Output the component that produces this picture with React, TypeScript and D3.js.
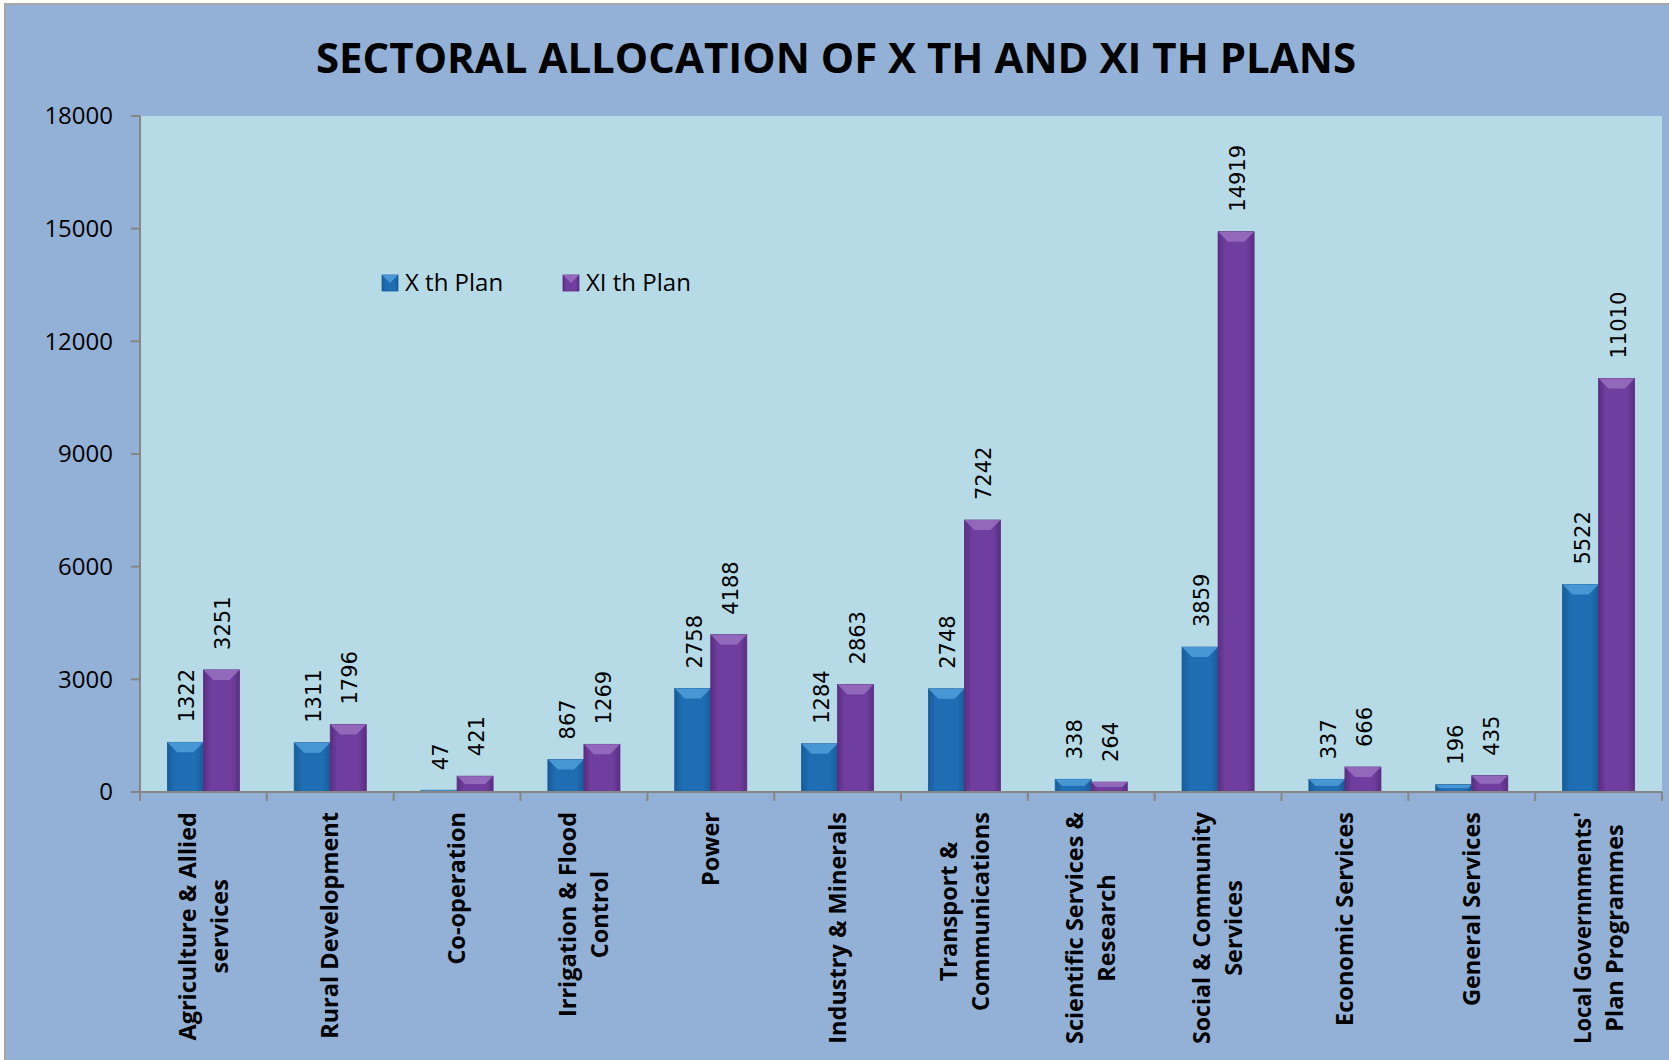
import * as d3 from 'd3'

// chart values
const categories = [
  'Agriculture & Allied services',
  'Rural Development',
  'Co-operation',
  'Irrigation & Flood Control',
  'Power',
  'Industry & Minerals',
  'Transport & Communications',
  'Scientific Services & Research',
  'Social & Community Services',
  'Economic Services',
  'General Services',
  "Local Governnments' Plan Programmes",
]
const categoryLines = [
  ['Agriculture & Allied', 'services'],
  ['Rural Development'],
  ['Co-operation'],
  ['Irrigation & Flood', 'Control'],
  ['Power'],
  ['Industry & Minerals'],
  ['Transport &', 'Communications'],
  ['Scientific Services &', 'Research'],
  ['Social & Community', 'Services'],
  ['Economic Services'],
  ['General Services'],
  ["Local Governnments'", 'Plan Programmes'],
]
const xthPlan = [1322, 1311, 47, 867, 2758, 1284, 2748, 338, 3859, 337, 196, 5522]
const xithPlan = [3251, 1796, 421, 1269, 4188, 2863, 7242, 264, 14919, 666, 435, 11010]
const seriesNames = ['X th Plan', 'XI th Plan']
const yTicks = [0, 3000, 6000, 9000, 12000, 15000, 18000]
const title = 'SECTORAL ALLOCATION OF X TH AND XI TH PLANS'

const W = 1669
const H = 1060
const plot = { left: 140, right: 1662, top: 116, bottom: 792 }

const palette = {
  'X th Plan': { base: '#1f6db3', dark: '#185c98', light: '#4f9fdb' },
  'XI th Plan': { base: '#703e9e', dark: '#5a2d82', light: '#9870bf' },
} as Record<string, { base: string; dark: string; light: string }>

const catFontSize = 23.5
const catFont = `bold ${catFontSize}px "Open Sans"`
const maxLineLen = 232
let ctx: CanvasRenderingContext2D | null = null
const measure = (s: string) => {
  if (!ctx) ctx = document.createElement('canvas').getContext('2d')
  if (!ctx) return s.length * 12
  ctx.font = catFont
  return ctx.measureText(s).width
}

const Bar = ({ x, y, w, h, name }: { x: number; y: number; w: number; h: number; name: string }) => {
  const c = palette[name]
  const b = Math.min(10, h / 2, w / 2)
  const id = name === 'X th Plan' ? 'gX' : 'gXI'
  return (
    <g>
      <rect x={x} y={y} width={w} height={h} fill={`url(#${id})`} stroke={c.dark} strokeWidth={0.8} />
      <polygon
        points={`${x},${y} ${x + w},${y} ${x + w - b},${y + b} ${x + b},${y + b}`}
        fill={c.light}
        opacity={0.85}
      />
    </g>
  )
}

const App = () => {
  const x0 = d3.scaleBand<string>().domain(categories).range([plot.left, plot.right]).padding(0)
  const x1 = d3.scaleBand<string>().domain(seriesNames).range([0, x0.bandwidth()]).paddingInner(0).paddingOuter(0.76)
  const y = d3.scaleLinear().domain([0, 18000]).range([plot.bottom, plot.top])

  const series = [
    { name: seriesNames[0], values: xthPlan },
    { name: seriesNames[1], values: xithPlan },
  ]

  return (
    <svg
      width={W}
      height={H}
      style={{ position: 'absolute', left: 0, top: 0, background: '#ffffff' }}
    >
      <defs>
        {seriesNames.map((n) => (
          <linearGradient key={n} id={n === 'X th Plan' ? 'gX' : 'gXI'} x1="0" x2="1" y1="0" y2="0">
            <stop offset="0" stopColor={palette[n].dark} />
            <stop offset="0.2" stopColor={palette[n].base} />
            <stop offset="0.8" stopColor={palette[n].base} />
            <stop offset="1" stopColor={palette[n].dark} />
          </linearGradient>
        ))}
      </defs>
      <rect x={5} y={4} width={W} height={H} fill="#93b1d6" stroke="#a6a6a6" strokeWidth={2} />
      <rect x={plot.left} y={plot.top} width={plot.right - plot.left} height={plot.bottom - plot.top} fill="#b6dbe6" />

      <text
        x={836}
        y={73}
        textAnchor="middle"
        fontFamily='"Open Sans", sans-serif'
        fontWeight="bold"
        fontSize={42}
        fill="#000"
      >
        {title}
      </text>

      {/* y axis */}
      <line x1={plot.left} x2={plot.left} y1={plot.top} y2={plot.bottom} stroke="#868686" strokeWidth={2} />
      {yTicks.map((t) => (
        <g key={t}>
          <line x1={plot.left - 9} x2={plot.left} y1={y(t)} y2={y(t)} stroke="#868686" strokeWidth={2} />
          <text
            x={113}
            y={y(t)}
            dy="0.35em"
            textAnchor="end"
            fontFamily='"Open Sans", sans-serif'
            fontSize={24}
            fill="#000"
          >
            {t}
          </text>
        </g>
      ))}

      {/* bars */}
      {series.map((s) =>
        s.values.map((v, i) => {
          const bx = (x0(categories[i]) ?? 0) + (x1(s.name) ?? 0)
          const bw = x1.bandwidth()
          return <Bar key={s.name + i} x={bx} y={y(v)} w={bw} h={y(0) - y(v)} name={s.name} />
        })
      )}

      {/* data labels */}
      {series.map((s) =>
        s.values.map((v, i) => {
          const cx = (x0(categories[i]) ?? 0) + (x1(s.name) ?? 0) + x1.bandwidth() / 2 + 2
          const ty = y(v) - 20
          return (
            <text
              key={'l' + s.name + i}
              transform={`translate(${cx},${ty}) rotate(-90)`}
              dominantBaseline="central"
              fontFamily='"DejaVu Sans", sans-serif'
              fontSize={21}
              fill="#000"
            >
              {v}
            </text>
          )
        })
      )}

      {/* x axis */}
      <line x1={plot.left} x2={plot.right} y1={plot.bottom} y2={plot.bottom} stroke="#868686" strokeWidth={2} />
      {categories.map((c) => (
        <line
          key={'t' + c}
          x1={x0(c) ?? 0}
          x2={x0(c) ?? 0}
          y1={plot.bottom}
          y2={plot.bottom + 9}
          stroke="#868686"
          strokeWidth={2}
        />
      ))}
      <line x1={plot.right} x2={plot.right} y1={plot.bottom} y2={plot.bottom + 9} stroke="#868686" strokeWidth={2} />

      {categories.map((c, i) => {
        const lines = categoryLines[i]
        const lens = lines.map(measure)
        const maxLen = Math.min(maxLineLen, d3.max(lens) ?? 0)
        const cy = 812 + maxLen / 2
        const cx = (x0(c) ?? 0) + x0.bandwidth() / 2
        const lh = 32
        return (
          <g key={'c' + c} transform={`translate(${cx},${cy}) rotate(-90)`}>
            {lines.map((ln, j) => (
              <text
                key={j}
                x={0}
                y={(j - (lines.length - 1) / 2) * lh}
                dy="0.35em"
                textAnchor="middle"
                fontFamily='"Open Sans", sans-serif'
                fontWeight="bold"
                fontSize={catFontSize}
                fill="#000"
                textLength={lens[j] > maxLineLen ? maxLineLen : undefined}
                lengthAdjust={lens[j] > maxLineLen ? 'spacingAndGlyphs' : undefined}
              >
                {ln}
              </text>
            ))}
          </g>
        )
      })}

      {/* legend */}
      {seriesNames.map((n, i) => {
        const lx = i === 0 ? 382 : 563
        return (
          <g key={'lg' + n}>
            <Bar x={lx} y={275} w={16} h={16} name={n} />
            <text
              x={lx + 23}
              y={291}
              fontFamily='"Open Sans", sans-serif'
              fontSize={24}
              fill="#000"
            >
              {n}
            </text>
          </g>
        )
      })}
    </svg>
  )
}

export default App
